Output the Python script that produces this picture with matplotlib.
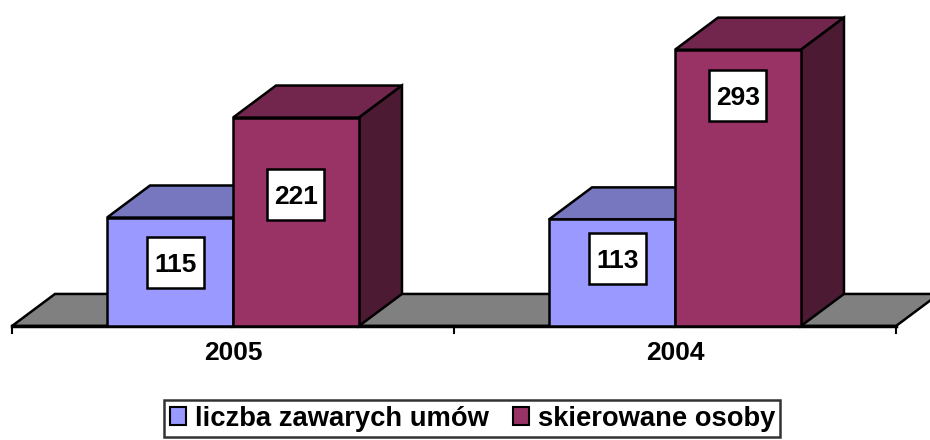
import numpy as np
import matplotlib.pyplot as plt
from matplotlib.patches import Polygon, Patch, Rectangle

plt.rcParams['font.family'] = ['Liberation Sans', 'DejaVu Sans']
plt.rcParams['font.weight'] = 'bold'

years = ["2005", "2004"]
umowy = [115, 113]
osoby = [221, 293]
series_names = ["liczba zawarych umów", "skierowane osoby"]

# label heights (value units)
umowy_lab_y = [67, 72]
osoby_lab_y = [139, 244]

front = ["#9999FF", "#993366"]
top = ["#7777C0", "#72264D"]
side = ["#4D4D80", "#4C1A33"]

w = 0.285          # bar width (category spacing = 1)
ddx, ddy = 0.0973, 34   # depth offset in data units

fig = plt.figure(figsize=(9.3, 4.4), dpi=100)
ax = fig.add_axes([0, 0, 1, 1])
ax.set_xlim(-233 / 442, (930 - 233) / 442)
ax.set_ylim(-114 / 0.943, 326 / 0.943)
ax.axis("off")

lw = 1.8

# floor
floor = Polygon([(-0.5, 0), (1.5, 0), (1.5 + ddx, ddy), (-0.5 + ddx, ddy)],
                closed=True, fc="#808080", ec="black", lw=lw, zorder=1)
ax.add_patch(floor)
ax.plot([-0.5, 1.5], [0, 0], color="black", lw=2.5, zorder=2)
for t in [-0.5, 0.5, 1.5]:
    ax.plot([t, t], [0, -7], color="black", lw=1.5, zorder=2)


def box3d(x0, h, k):
    x1 = x0 + w
    ax.add_patch(Polygon([(x0, h), (x1, h), (x1 + ddx, h + ddy), (x0 + ddx, h + ddy)],
                         fc=top[k], ec="black", lw=lw, zorder=3))
    ax.add_patch(Polygon([(x1, 0), (x1 + ddx, ddy), (x1 + ddx, h + ddy), (x1, h)],
                         fc=side[k], ec="black", lw=lw, zorder=3))


def label(xc, yc, val):
    bw, bh = 57 / 442, 51 / 0.943
    ax.add_patch(Rectangle((xc - bw / 2, yc - bh / 2), bw, bh, fc="white",
                           ec="black", lw=1.8, zorder=5))
    ax.text(xc, yc, str(val), ha="center", va="center_baseline", fontsize=19,
            fontweight="bold", zorder=6)


x = np.arange(len(years))
for i in range(len(years)):
    box3d(x[i] - w, umowy[i], 0)
    ax.bar(x[i] - w / 2, umowy[i], w, color=front[0], edgecolor="black", lw=lw, zorder=4)
    box3d(x[i], osoby[i], 1)
    ax.bar(x[i] + w / 2, osoby[i], w, color=front[1], edgecolor="black", lw=lw, zorder=4)

for i in range(len(years)):
    label(x[i] - w / 2 + 0.012, umowy_lab_y[i], umowy[i])
    label(x[i] + w / 2, osoby_lab_y[i], osoby[i])
    ax.text(x[i], -29, years[i], ha="center", va="center", fontsize=19, fontweight="bold")

handles = [Patch(fc=front[0], ec="black", lw=1.5), Patch(fc=front[1], ec="black", lw=1.5)]
leg = fig.legend(handles, series_names, loc="lower center", bbox_to_anchor=(0.508, 0.0),
                 ncol=2, frameon=True, fancybox=False, prop=dict(size=19.7, weight="bold"),
                 handlelength=0.6, handleheight=0.6, handletextpad=0.3, columnspacing=0.9,
                 borderpad=0.2, borderaxespad=0.1)
leg.get_frame().set_edgecolor("black")
leg.get_frame().set_linewidth(1.8)

fig.savefig("out.png", dpi=100)
